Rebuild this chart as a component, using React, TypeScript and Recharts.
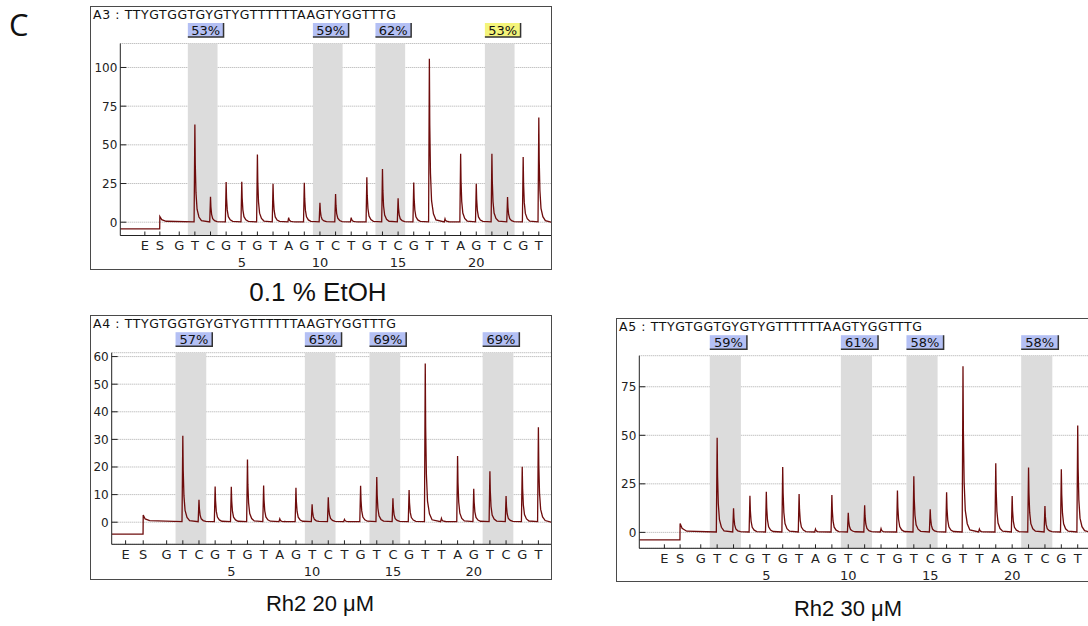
import React from 'react';
import { LineChart, Line, XAxis, YAxis, CartesianGrid, ReferenceArea } from 'recharts';

// dispensation order (positions 1..24)
const letters = ['G', 'T', 'C', 'G', 'T', 'G', 'T', 'A', 'G', 'T', 'C', 'T', 'G', 'T', 'C', 'G', 'T', 'T', 'A', 'G', 'T', 'C', 'G', 'T'];
const seqTitle = 'TTYGTGGTGYGTYGTTTTTTAAGTYGGTTTG';

// peak heights, one per dispensation
const peaksA3 = [0, 63, 16.2, 25.8, 26, 43.5, 24.7, 2.8, 25.3, 12.3, 18, 2.8, 28.8, 34.2, 15.2, 25.5, 105.5, 2, 44, 24.7, 44, 16, 42, 67.5];
const peaksA4 = [0, 31.1, 7.9, 12.7, 12.6, 22.5, 13.1, 1, 12.3, 6.3, 8.8, 0.8, 13, 16.2, 8.5, 11.5, 57.3, 1.2, 23.8, 11.9, 18.3, 9.3, 19.9, 34.2];
const peaksA5 = [0, 48.5, 12.2, 18.7, 20.7, 33.5, 19.6, 1.5, 19, 9.9, 13.8, 1.7, 21.4, 28.7, 11.7, 20.4, 85.3, 1.5, 35.4, 18.5, 33.2, 13.4, 32.3, 54.8];

// CpG sites (dispensation pairs) and methylation %
const sitePairs = [[2, 3], [10, 11], [14, 15], [21, 22]];
const pctA3 = ['53%', '59%', '62%', '53%'];
const pctA4 = ['57%', '65%', '69%', '69%'];
const pctA5 = ['59%', '61%', '58%', '58%'];
const pctColorsA3 = ['#b4c0f4', '#b4c0f4', '#b4c0f4', '#f4f47a'];
const pctColorsBlue = ['#b4c0f4', '#b4c0f4', '#b4c0f4', '#b4c0f4'];

const yTicksA3 = [0, 25, 50, 75, 100];
const yTicksA4 = [0, 10, 20, 30, 40, 50, 60];
const yTicksA5 = [0, 25, 50, 75];

// relative peak shape: [offset, fraction of height]
const SHAPE = [[-0.05, 0], [0, 1], [0.025, 0.6], [0.07, 0.3], [0.14, 0.13], [0.26, 0.05], [0.42, 0.012]];

const buildTrace = (peaks: number[], sPos: number, xMin: number, xMax: number, preS: number, sSpike: number) => {
  const pts: { x: number; y: number }[] = [];
  pts.push({ x: xMin, y: preS });
  pts.push({ x: sPos - 0.01, y: preS });
  pts.push({ x: sPos, y: sSpike });
  pts.push({ x: sPos + 0.12, y: sSpike * 0.45 });
  pts.push({ x: sPos + 0.4, y: 0.6 });
  peaks.forEach((h, i) => {
    const p = i + 1;
    if (h <= 0) return;
    SHAPE.forEach(([dx, f]) => pts.push({ x: p + dx, y: h * f + 0.2 }));
  });
  pts.push({ x: xMax, y: 0 });
  return pts;
};

const PctLabel = (props: any) => {
  const { viewBox, text, color } = props;
  if (!viewBox) return null;
  const x = viewBox.x;
  const y = viewBox.y - 20.5;
  const w = viewBox.width + 6;
  const h = 14;
  return (
    <g>
      <rect x={x} y={y} width={w} height={h} fill={color} />
      <polyline points={`${x},${y + h} ${x + w},${y + h} ${x + w},${y}`} fill="none" stroke="#333" strokeWidth={1.5} />
      <text x={x + w / 2} y={y + h - 2.5} textAnchor="middle" fontSize={13} fontFamily="DejaVu Sans" fill="#111">{text}</text>
    </g>
  );
};

const YTick = (props: any) => {
  const { x, y, payload } = props;
  return (
    <g>
      <line x1={x} x2={x + 6} y1={y} y2={y} stroke="#222" />
      <text x={x - 3} y={y + 4.5} textAnchor="end" fontSize={12} fontFamily="DejaVu Sans" fill="#222">{payload.value}</text>
    </g>
  );
};

const makeXTick = (ePos: number, sPos: number) => (props: any) => {
  const { x, y, payload } = props;
  const v = payload.value;
  let lab = '';
  let num = '';
  if (v === ePos) lab = 'E';
  else if (v === sPos) lab = 'S';
  else {
    lab = letters[v - 1];
    if (v % 5 === 0) num = String(v);
  }
  return (
    <g>
      <line x1={x} x2={x} y1={y - 4} y2={y} stroke="#222" />
      <text x={x} y={y + 14.5} textAnchor="middle" fontSize={13} fontFamily="DejaVu Sans" fill="#222">{lab}</text>
      {num && <text x={x} y={y + 31.5} textAnchor="middle" fontSize={13} fontFamily="DejaVu Sans" fill="#222">{num}</text>}
    </g>
  );
};

interface PanelProps {
  name: string;
  box: { x: number; y: number; w: number; h: number };
  plot: { x1: number; x2: number; y1: number; y2: number };
  xDomain: [number, number];
  yDomain: [number, number];
  yTicks: number[];
  ePos: number;
  sPos: number;
  peaks: number[];
  preS: number;
  sSpike: number;
  pcts: string[];
  pctColors: string[];
  caption: string;
  capX: number;
  capTop: number;
  capSize: number;
}

const Panel: React.FC<PanelProps> = (p) => {
  const data = buildTrace(p.peaks, p.sPos, p.xDomain[0], p.xDomain[1], p.preS, p.sSpike);
  const xTicks = [p.ePos, p.sPos, ...letters.map((_, i) => i + 1)];
  const margin = {
    top: p.plot.y1 - p.box.y,
    right: p.box.x + p.box.w - p.plot.x2,
    left: 0,
    bottom: 0,
  };
  return (
    <>
      <div style={{ position: 'absolute', left: p.box.x, top: p.box.y, width: p.box.w, height: p.box.h, border: '1.6px solid #4a4a4a', boxSizing: 'border-box' }} />
      <div style={{ position: 'absolute', left: p.box.x + 3, top: p.box.y + 3, fontFamily: 'DejaVu Sans', fontSize: 12.5, letterSpacing: 0.6, lineHeight: '12px', color: '#111', whiteSpace: 'nowrap' }}>
        {p.name} : {seqTitle}
      </div>
      <div style={{ position: 'absolute', left: p.box.x, top: p.box.y }}>
        <LineChart width={p.box.w} height={p.box.h} data={data} margin={margin}>
          <CartesianGrid vertical={false} stroke="#aaa" strokeDasharray="1 1" />
          {sitePairs.map(([a, b], i) => (
            <ReferenceArea
              key={i}
              x1={a - 0.45}
              x2={b + 0.45}
              fill="#dcdcdc"
              fillOpacity={1}
              stroke="none"
              label={<PctLabel text={p.pcts[i]} color={p.pctColors[i]} />}
            />
          ))}
          <XAxis
            dataKey="x"
            type="number"
            domain={p.xDomain}
            ticks={xTicks}
            interval={0}
            allowDataOverflow
            height={p.box.y + p.box.h - p.plot.y2}
            tickLine={false}
            tickSize={0}
            tickMargin={0}
            tick={makeXTick(p.ePos, p.sPos)}
            axisLine={{ stroke: '#222' }}
          />
          <YAxis
            type="number"
            domain={p.yDomain}
            ticks={p.yTicks}
            interval={0}
            allowDataOverflow
            width={p.plot.x1 - p.box.x}
            tickLine={false}
            tickSize={0}
            tickMargin={0}
            tick={<YTick />}
            axisLine={{ stroke: '#222' }}
          />
          <Line type="linear" dataKey="y" stroke="#6e0c0c" strokeWidth={1.3} dot={false} isAnimationActive={false} />
        </LineChart>
      </div>
      <div style={{ position: 'absolute', left: p.capX - 150, top: p.capTop, width: 300, textAlign: 'center', fontFamily: 'Liberation Sans', fontSize: p.capSize, lineHeight: `${p.capSize}px`, color: '#111' }}>
        {p.caption}
      </div>
    </>
  );
};

const App: React.FC = () => {
  return (
    <div style={{ position: 'absolute', left: 0, top: 0, width: 1088, height: 626, overflow: 'hidden', background: '#fff' }}>
      <div style={{ position: 'absolute', left: 9, top: 4, fontFamily: 'Open Sans', fontSize: 31, lineHeight: '40px', color: '#111' }}>C</div>
      <Panel
        name="A3"
        box={{ x: 90, y: 5.5, w: 462, h: 264.5 }}
        plot={{ x1: 120.3, x2: 551, y1: 43, y2: 235 }}
        xDomain={[-2.77, 24.78]}
        yDomain={[-8.6, 115.5]}
        yTicks={yTicksA3}
        ePos={-1.2}
        sPos={-0.24}
        peaks={peaksA3}
        preS={-4.3}
        sSpike={3.7}
        pcts={pctA3}
        pctColors={pctColorsA3}
        caption="0.1 % EtOH"
        capX={318}
        capTop={279}
        capSize={26}
      />
      <Panel
        name="A4"
        box={{ x: 90, y: 315, w: 462, h: 265 }}
        plot={{ x1: 111.7, x2: 551, y1: 352.7, y2: 544.3 }}
        xDomain={[-2.4, 24.78]}
        yDomain={[-8, 61.4]}
        yTicks={yTicksA4}
        ePos={-1.54}
        sPos={-0.45}
        peaks={peaksA4}
        preS={-4.3}
        sSpike={2.6}
        pcts={pctA4}
        pctColors={pctColorsBlue}
        caption="Rh2 20 μM"
        capX={320}
        capTop={593}
        capSize={22}
      />
      <Panel
        name="A5"
        box={{ x: 616, y: 318, w: 476, h: 264 }}
        plot={{ x1: 639.3, x2: 1090.5, y1: 355.7, y2: 548.3 }}
        xDomain={[-2.75, 24.78]}
        yDomain={[-8.2, 91]}
        yTicks={yTicksA5}
        ePos={-1.22}
        sPos={-0.26}
        peaks={peaksA5}
        preS={-3.9}
        sSpike={4.6}
        pcts={pctA5}
        pctColors={pctColorsBlue}
        caption="Rh2 30 μM"
        capX={848}
        capTop={598}
        capSize={22}
      />
    </div>
  );
};

export default App;
